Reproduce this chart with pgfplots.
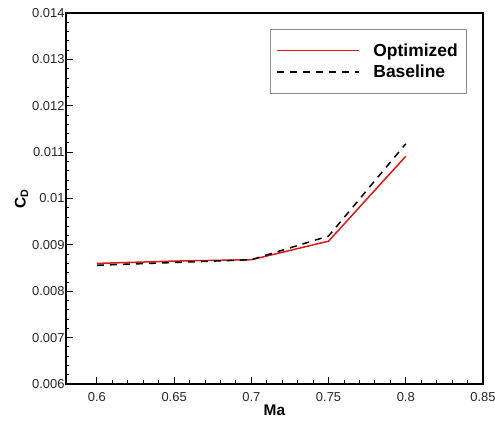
\documentclass[border=0pt]{standalone}
\usepackage{fontspec}
\setmainfont{Liberation Sans}
\usepackage{pgfplots}
\pgfplotsset{compat=1.18}
\definecolor{optred}{RGB}{226,20,20}
\definecolor{legframe}{RGB}{140,140,140}
\begin{document}
\begin{tikzpicture}
\begin{axis}[
  scale only axis,
  width=417bp, height=371bp,
  xmin=0.58, xmax=0.85,
  ymin=0.006, ymax=0.014,
  xtick={0.6,0.65,...,0.86},
  xticklabels={0.6,0.65,0.7,0.75,0.8,0.85},
  ytick={0.006,0.007,...,0.0141},
  yticklabels={0.006,0.007,0.008,0.009,0.01,0.011,0.012,0.013,0.014},
  minor x tick num=4,
  minor y tick num=4,
  tick pos=left,
  tick align=inside,
  major tick length=7bp,
  minor tick length=3.5bp,
  every tick/.style={black, line width=0.8bp},
  axis line style={line width=1.2bp},
  scaled y ticks=false,
  ticklabel style={font=\fontsize{13}{15}\selectfont, color=black!85},
  xticklabel style={yshift=-5bp},
  yticklabel style={xshift=2bp},
  xlabel={\textbf{Ma}},
  ylabel={$\mathbf{C}_{\mathbf{D}}$},
  xlabel style={font=\fontsize{15.5}{17}\selectfont\bfseries, yshift=4bp},
  ylabel style={font=\fontsize{15.5}{17}\selectfont\bfseries, yshift=-3bp},
  legend style={at={(0.959,0.957)}, anchor=north east, draw=legframe,
    font=\fontsize{17.5}{19}\selectfont\bfseries, inner xsep=6bp, inner ysep=11bp,
    row sep=0bp, cells={anchor=west},
    nodes={inner xsep=2bp, inner ysep=3.5bp}},
  legend image code/.code={\draw[#1] (0bp,0bp) -- (82bp,0bp);},
]
\addplot[draw=optred, line width=1.5bp] coordinates {
  (0.60,0.00860) (0.65,0.00865) (0.70,0.00868) (0.75,0.00908) (0.80,0.01091)
};
\addlegendentry{\hspace{12bp}Optimized}
\addplot[draw=black, line width=1.5bp, dash pattern=on 7bp off 6bp] coordinates {
  (0.60,0.00856) (0.65,0.00862) (0.70,0.00868) (0.75,0.00919) (0.80,0.01118)
};
\addlegendentry{\hspace{12bp}Baseline}
\end{axis}
\pgfresetboundingbox
\path ([shift={(-66bp,-37bp)}]current axis.south west) rectangle ([shift={(12bp,13bp)}]current axis.north east);
\end{tikzpicture}
\end{document}
